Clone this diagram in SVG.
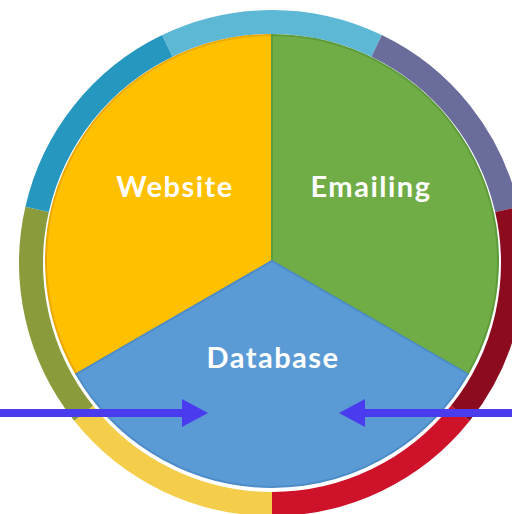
<svg xmlns="http://www.w3.org/2000/svg" width="512" height="514" viewBox="0 0 512 514">
  <style>
    .seg { fill: none; stroke-width: 24; stroke-linecap: butt; }
    .label { font-family: Lato, "Open Sans", "Liberation Sans", sans-serif; font-weight: bold; font-size: 29px; letter-spacing: 1.5px; fill: #FFFFFF; text-anchor: middle; }
    .arrow { stroke: #4B3BEF; stroke-width: 8; fill: none; marker-end: url(#head); }
  </style>
  <defs>
    <marker id="head" markerUnits="userSpaceOnUse" viewBox="0 0 26 28" refX="2" refY="14" markerWidth="26" markerHeight="28" orient="auto">
      <path d="M0,0 L26,14 L0,28 Z" fill="#4B3BEF"/>
    </marker>
  </defs>
  <rect width="512" height="514" fill="#FFFFFF"/>
  <g id="ring">
    <path class="seg" stroke="#F4CD4A" d="M272,504 A241,241 0 0 1 83.6,413.3"/>
    <path class="seg" stroke="#8A9B3B" d="M83.6,413.3 A241,241 0 0 1 37.1,209.4"/>
    <path class="seg" stroke="#2697BF" d="M37.1,209.4 A241,241 0 0 1 167.4,45.9"/>
    <path class="seg" stroke="#5DB8D6" d="M167.4,45.9 A241,241 0 0 1 376.6,45.9"/>
    <path class="seg" stroke="#6A6D9B" d="M376.6,45.9 A241,241 0 0 1 506.9,209.4"/>
    <path class="seg" stroke="#8C0B1F" d="M506.9,209.4 A241,241 0 0 1 460.4,413.3"/>
    <path class="seg" stroke="#CD1229" d="M460.4,413.3 A241,241 0 0 1 272,504"/>
  </g>
  <g id="website">
    <path d="M272,261 L272,35 A226,226 0 0 0 76.3,374 Z" fill="#FFC000" stroke="#EBA900" stroke-width="2"/>
    <text class="label" x="175" y="197">Website</text>
  </g>
  <g id="emailing">
    <path d="M272,261 L272,35 A226,226 0 0 1 467.7,374 Z" fill="#70AD47" stroke="#5E9B3B" stroke-width="2"/>
    <text class="label" x="371" y="197" fill="#F2F9E6">Emailing</text>
  </g>
  <g id="database">
    <path d="M272,261 L467.7,374 A226,226 0 0 1 76.3,374 Z" fill="#5B9BD5" stroke="#4C8CC8" stroke-width="2"/>
    <text class="label" x="273" y="368">Database</text>
  </g>
  <g id="connectors">
    <line class="arrow" x1="0" y1="413" x2="184" y2="413"/>
    <line class="arrow" x1="512" y1="413" x2="363" y2="413"/>
  </g>
</svg>
